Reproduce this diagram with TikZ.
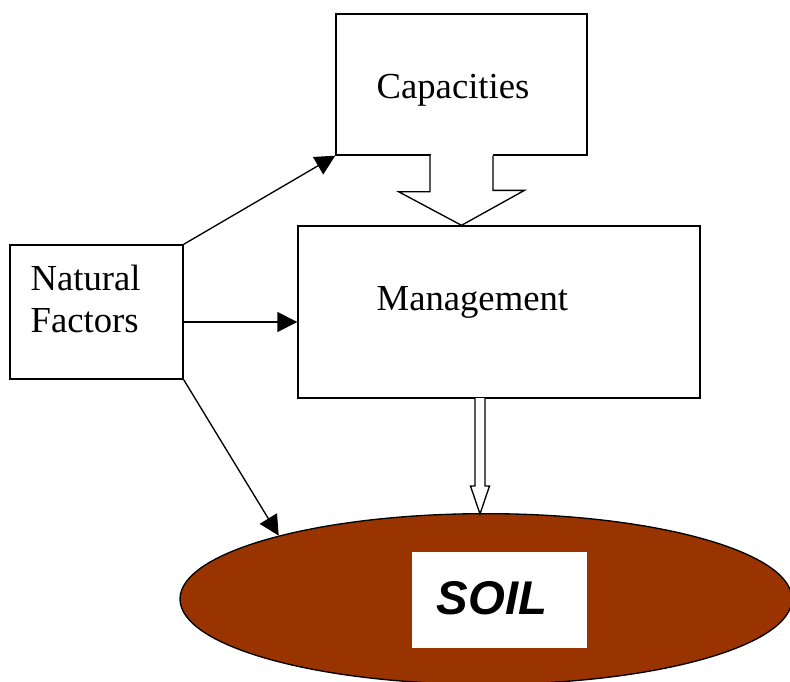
\documentclass[tikz,border=0pt]{standalone}
\usepackage{fontspec}
\setmainfont{Liberation Serif}
\setsansfont{Liberation Sans}
\usetikzlibrary{calc,shapes.geometric,arrows.meta}
\definecolor{soilbrown}{RGB}{153,51,0}

\begin{document}
\begin{tikzpicture}[x=0.75pt, y=-0.75pt, line width=1pt,
  font=\fontsize{27.5}{31}\selectfont,
  box/.style={draw, fill=white, inner sep=0pt},
  link/.style={-{Triangle[length=15pt,width=15pt]}}]
  \useasboundingbox (0,0) rectangle (790,682);
  % Boxes
  \node[box, minimum width=129.75pt, minimum height=100.5pt] (nat) at (96.5,312) {};
  \node[box, minimum width=188.25pt, minimum height=105.75pt] (cap) at (461.5,84.5) {};
  \node[box, minimum width=301.5pt, minimum height=129pt] (mgmt) at (499,312) {};
  % Soil
  \node[ellipse, draw, fill=soilbrown, inner sep=0pt,
        minimum width=459pt, minimum height=128pt] (soil) at (486,599) {};
  \node[fill=white, minimum width=131.25pt, minimum height=72pt] (soilbox) at (499.5,600) {};
  % Labels
  \node[anchor=west, align=left, inner sep=0pt] (natlabel) at (30,299) {Natural\\Factors};
  \node[anchor=base west, inner sep=0pt] (caplabel) at (376,98) {Capacities};
  \node[anchor=base west, inner sep=0pt] (mgmtlabel) at (376,310) {Management};
  \node[anchor=base west, inner sep=0pt,
        font=\sffamily\bfseries\itshape\fontsize{35.5}{40}\selectfont] (soillabel) at (436,614) {SOIL};
  % Block arrow Capacities -> Management
  \fill[white] ($(cap.south)+(-31,-1.5)$) rectangle ($(cap.south)+(31,1.5)$);
  \draw[fill=white] ($(cap.south)+(-31.5,0)$) -- ++(0,36) -- ++(-31.5,0)
    -- (cap.south |- mgmt.north) -- ++(63,-35) -- ++(-31.5,0) -- ($(cap.south)+(31.5,0)$);
  % Hollow arrow Management -> Soil
  \coordinate (drop) at (480,398);
  \draw[fill=white] ($(drop)+(-5,0)$) -- ++(0,88) -- ++(-4.5,0) -- ++(9.5,28)
    -- ++(9.5,-28) -- ++(-4.5,0) -- ($(drop)+(5,0)$);
  % Natural factors arrows
  \coordinate (natmid) at ($(nat.east)+(0,10)$);
  \draw[link] (nat.north east) -- (cap.south west);
  \draw[link] (natmid) -- (natmid -| mgmt.west);
  \draw[link] (nat.south east) -- (soil.163);
\end{tikzpicture}
\end{document}
